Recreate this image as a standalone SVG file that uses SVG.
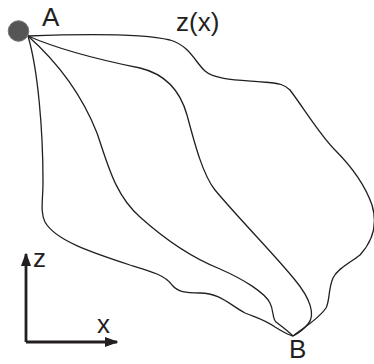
<svg xmlns="http://www.w3.org/2000/svg" width="374" height="364" viewBox="0 0 374 364">
<style>
.lbl{font-family:"Liberation Sans",Arial,sans-serif;font-size:26px;fill:#231f20}
.c{fill:none;stroke:#231f20;stroke-width:1.3;stroke-linejoin:round}
.ax{fill:none;stroke:#231f20;stroke-width:2.8}
</style>
<defs>
<marker id="ah" viewBox="0 0 10 10" refX="9" refY="5" markerWidth="4.8" markerHeight="4.8" orient="auto" markerUnits="strokeWidth">
<path d="M0,1.2 L10,5 L0,8.8 Z" fill="#231f20"/>
</marker>
</defs>
<rect width="374" height="364" fill="#fff"/>
<g id="connectors">
<path class="c" d="M28,36 C80,34 140,33 170,40 C190,46 195,62 205,71 C215,80 240,80 263,82 C280,83 285,85 290,90 C305,110 320,135 335,150 C350,165 365,185 372,205 C378,225 372,242 360,255 C350,263 338,268 333,278 C328,290 330,300 326,308 C318,320 300,330 293,336"/>
<path class="c" d="M28,36 C60,50 110,62 140,68 C165,74 180,90 187,115 C195,145 203,175 215,190 C240,220 275,255 295,280 C310,298 316,315 308,324 C303,330 297,334 293,336"/>
<path class="c" d="M28,36 C55,60 80,90 97,133 C108,165 115,195 140,217 C160,235 185,255 220,269 C245,280 265,293 270,303 C274,311 272,318 276,322 C284,328 290,333 293,336"/>
<path class="c" d="M28,36 C38,70 43,130 43,182 C43,200 40,212 45,222 C55,240 90,252 130,265 C150,271 165,275 172,285 C178,292 185,293 200,293 C220,293 230,305 245,313 C260,319 265,320 275,327 C283,332 288,335 293,336"/>
</g>
<g id="nodeA">
<circle cx="18.5" cy="31" r="10.3" fill="#555" stroke="#777" stroke-width="1"/>
<text class="lbl" x="42" y="26">A</text>
</g>
<g id="labelZx">
<text class="lbl" x="176" y="31" font-size="27">z(x)</text>
</g>
<g id="nodeB">
<text class="lbl" x="289" y="358" font-size="25">B</text>
</g>
<g id="axes">
<path class="ax" d="M26,342 L26,254" marker-end="url(#ah)"/>
<path class="ax" d="M26,342 L117,342" marker-end="url(#ah)"/>
<text class="lbl" x="33" y="267">z</text>
<text class="lbl" x="97" y="333">x</text>
</g>
</svg>
